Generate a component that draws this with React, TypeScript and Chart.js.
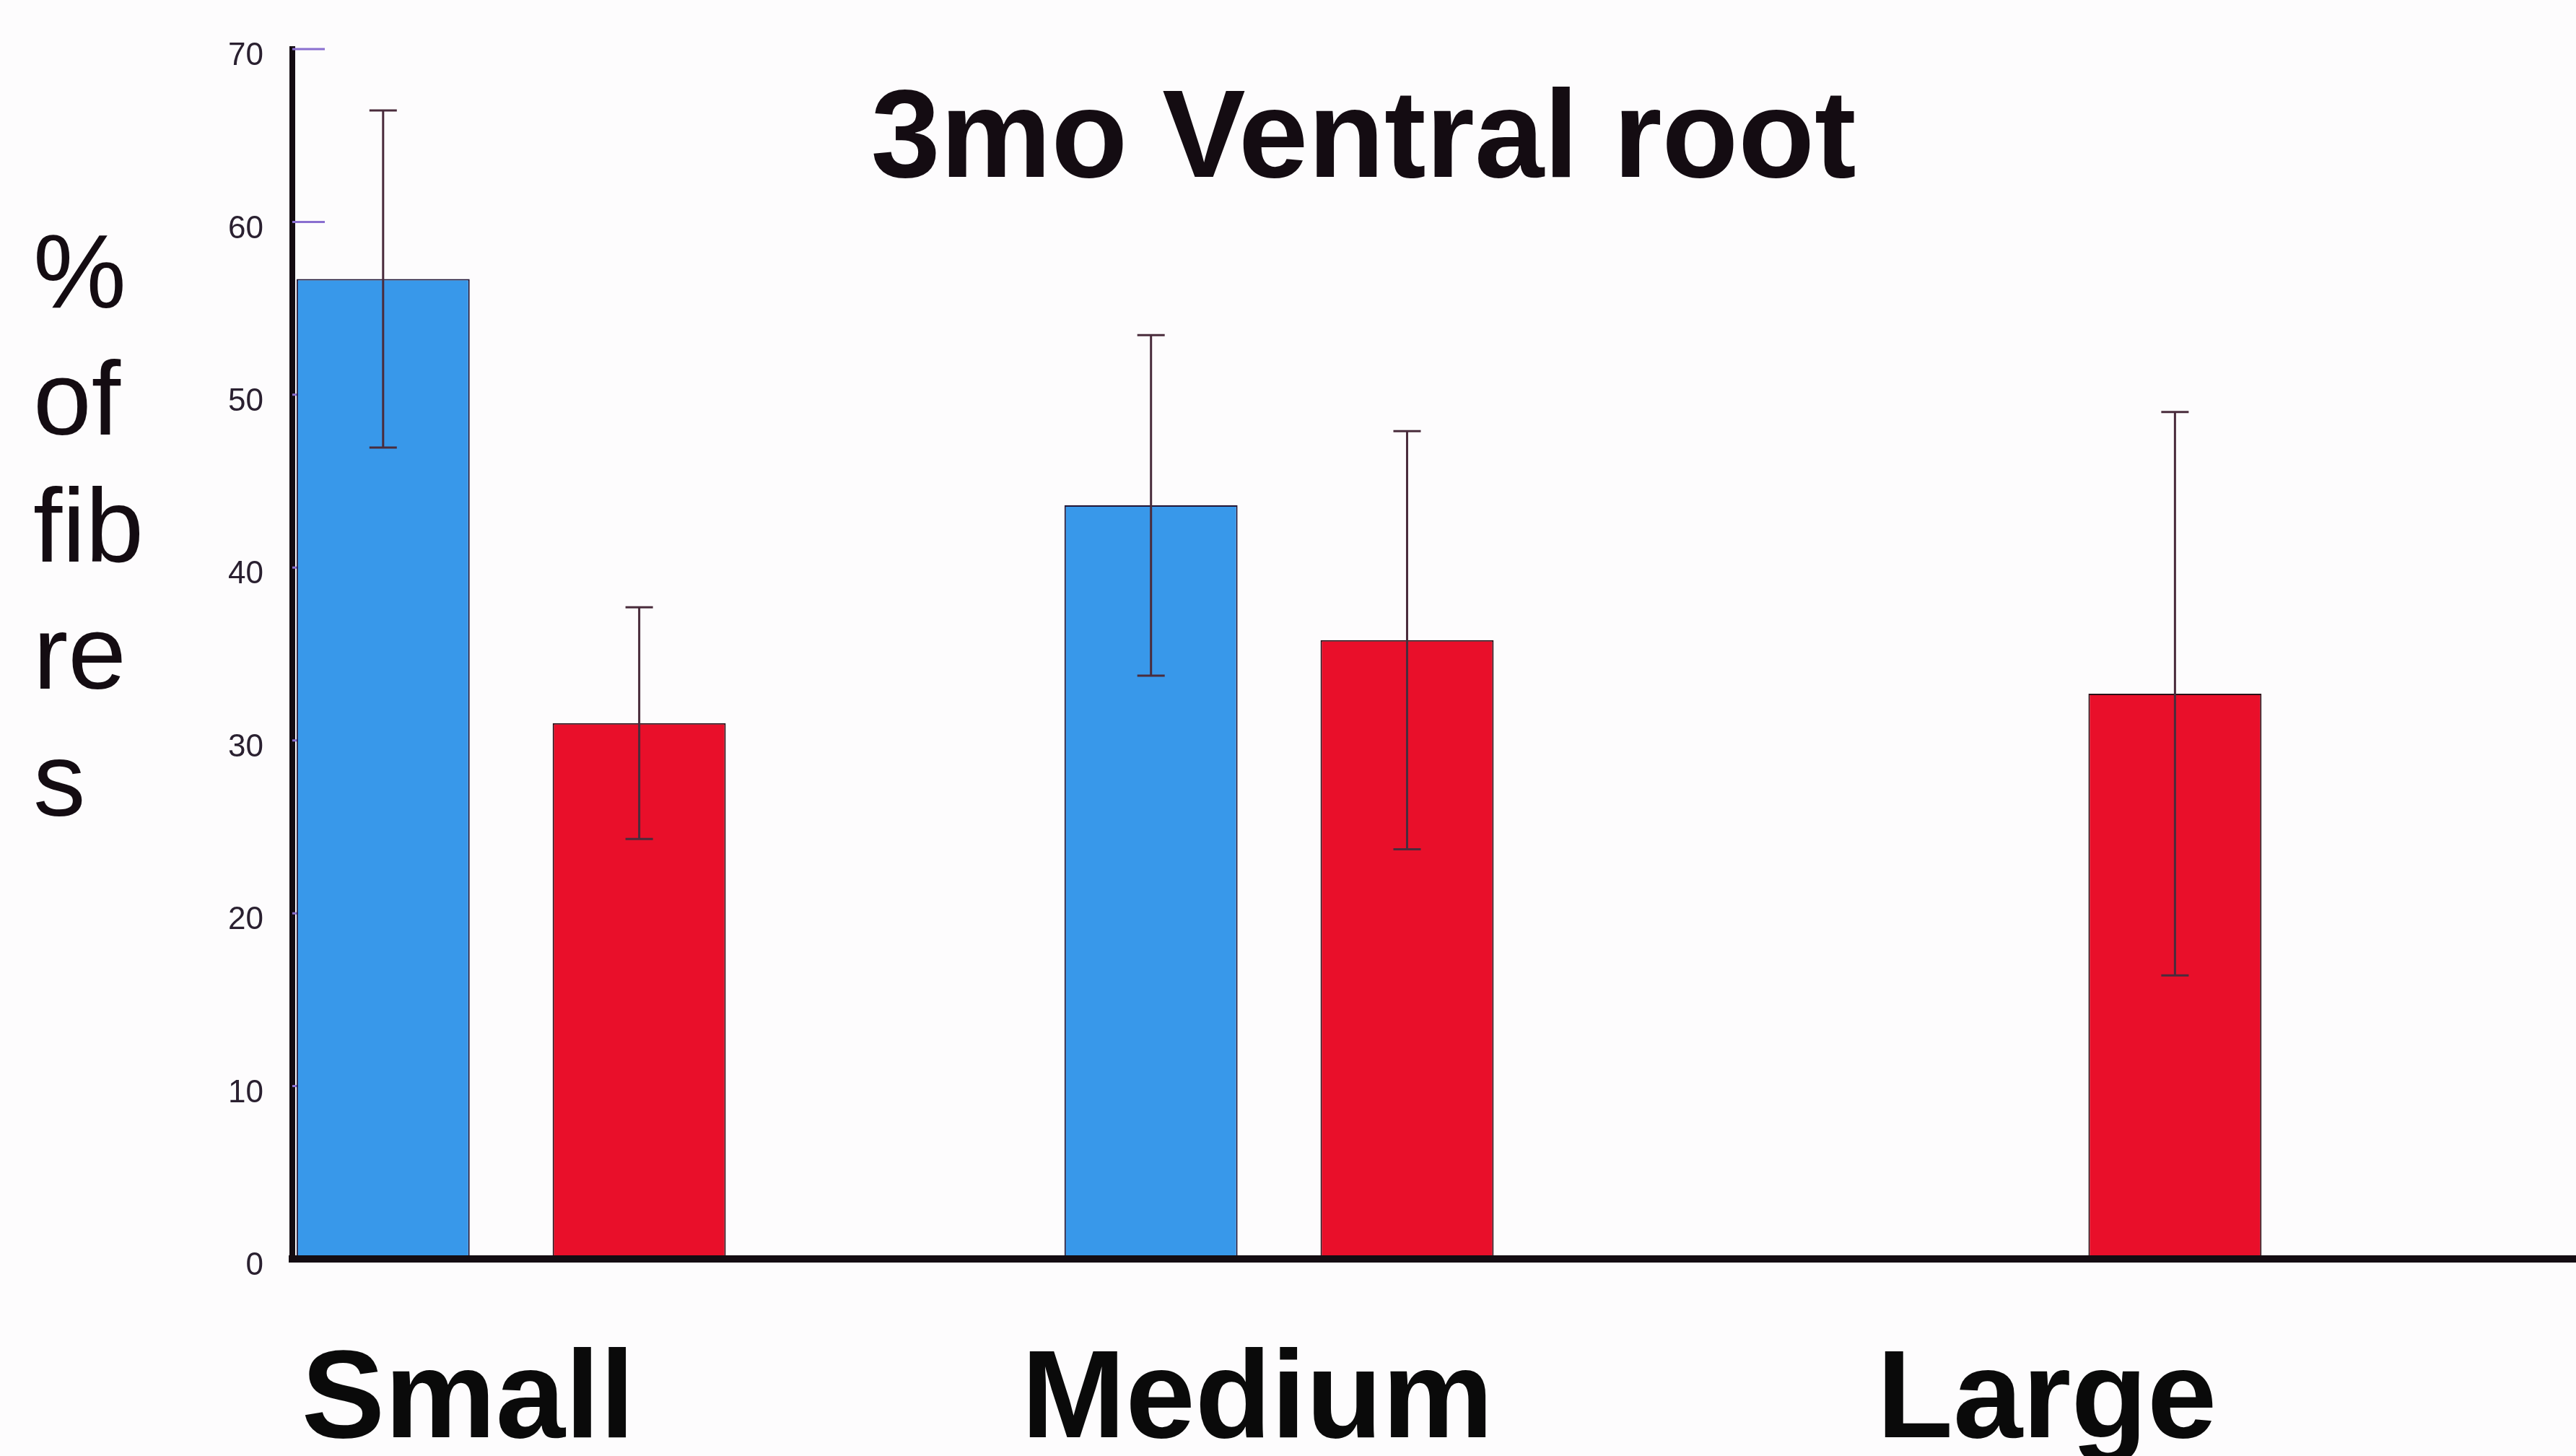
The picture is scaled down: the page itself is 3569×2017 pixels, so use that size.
import React, { useEffect, useRef } from 'react';
import { Chart, registerables } from 'chart.js';

Chart.register(...registerables);

// ---- data ----
const categories = ['Small', 'Medium', 'Large'];
const seriesNames = ['Series 1', 'Series 2'];
const blueValues = [56.7, 43.6, 0];
const blueErrors = [9.75, 9.85, 0];
const redValues = [31.0, 35.8, 32.7];
const redErrors = [6.7, 12.1, 16.3];
const yMin = 0;
const yMax = 70;
const yStep = 10;
const titleText = '3mo Ventral root';
const yLabelLines = ['%', 'of', 'fib', 're', 's'];

const W = 3569;
const H = 2017;
const INK = '#140c12';
const X_MIN = -0.285;
const X_MAX = 2.689;
const LABEL_SPREAD = 1.028;

const errorBarPlugin = {
  id: 'errorBars',
  afterDatasetsDraw(chart: any) {
    const { ctx } = chart;
    const y = chart.scales.y;
    chart.data.datasets.forEach((ds: any, di: number) => {
      const meta = chart.getDatasetMeta(di);
      meta.data.forEach((el: any, i: number) => {
        const v = ds.data[i]?.y;
        const e = ds.errors?.[i];
        if (v == null || !e) return;
        const x = el.x;
        const top = y.getPixelForValue(v + e);
        const bot = y.getPixelForValue(v - e);
        ctx.save();
        ctx.strokeStyle = '#4a2c3c';
        ctx.lineWidth = 3;
        ctx.beginPath();
        ctx.moveTo(x, top);
        ctx.lineTo(x, bot);
        ctx.moveTo(x - 19, top);
        ctx.lineTo(x + 19, top);
        ctx.moveTo(x - 19, bot);
        ctx.lineTo(x + 19, bot);
        ctx.stroke();
        ctx.restore();
      });
    });
  },
};

const innerTickPlugin = {
  id: 'innerTicks',
  beforeDatasetsDraw(chart: any) {
    const { ctx, chartArea } = chart;
    const y = chart.scales.y;
    ctx.save();
    ctx.strokeStyle = '#8a6fd0';
    ctx.lineWidth = 3;
    y.ticks.forEach((t: any) => {
      if (t.value === yMin) return;
      const py = y.getPixelForValue(t.value);
      ctx.beginPath();
      ctx.moveTo(chartArea.left, py);
      ctx.lineTo(chartArea.left + 45, py);
      ctx.stroke();
    });
    ctx.restore();
  },
};

const textPlugin = {
  id: 'freeText',
  afterDraw(chart: any) {
    const { ctx } = chart;
    ctx.save();
    ctx.fillStyle = INK;
    ctx.font = 'bold 173px "Liberation Sans", Arial, sans-serif';
    ctx.textAlign = 'center';
    ctx.textBaseline = 'alphabetic';
    ctx.fillText(titleText, 1889, 245);
    ctx.font = '145px "Liberation Sans", Arial, sans-serif';
    ctx.textAlign = 'left';
    yLabelLines.forEach((line, i) => {
      ctx.fillText(line, 46, 426 + i * 176);
    });
    ctx.restore();
  },
};

export default function App() {
  const ref = useRef<HTMLCanvasElement | null>(null);

  useEffect(() => {
    document.body.style.margin = '0';
    const canvas = ref.current;
    if (!canvas) return;
    const chart = new Chart(canvas, {
      type: 'bar',
      data: {
        datasets: [
          {
            label: seriesNames[0],
            data: blueValues.map((v, i) => ({ x: i, y: v })),
            errors: blueErrors,
            backgroundColor: '#3898ea',
            borderColor: '#221535',
            borderWidth: 2,
          } as any,
          {
            label: seriesNames[1],
            data: redValues.map((v, i) => ({ x: i, y: v })),
            errors: redErrors,
            backgroundColor: '#e90f2a',
            borderColor: '#2a1018',
            borderWidth: 2,
          } as any,
        ],
      },
      options: {
        animation: false,
        responsive: false,
        maintainAspectRatio: false,
        layout: { padding: { left: 285, right: 0, top: 68, bottom: 0 } },
        datasets: { bar: { categoryPercentage: 0.667, barPercentage: 0.676 } },
        plugins: {
          legend: { display: false },
          title: { display: false },
          tooltip: { enabled: false },
        },
        scales: {
          x: {
            type: 'linear',
            offset: false,
            bounds: 'data',
            min: X_MIN,
            max: X_MAX,
            afterBuildTicks: (scale: any) => {
              const mid = (categories.length - 1) / 2;
              scale.ticks = categories.map((_, i) => ({ value: mid + (i - mid) * LABEL_SPREAD }));
              scale.min = X_MIN;
              scale.max = X_MAX;
            },
            afterFit: (scale: any) => {
              scale.height = H - 1744;
            },
            grid: { display: false, drawTicks: false },
            border: { display: true, color: INK, width: 10, z: 1 } as any,
            ticks: {
              autoSkip: false,
              maxRotation: 0,
              padding: 95,
              labelOffset: -30,
              color: '#0a0a0a',
              font: { family: '"Liberation Sans", Arial, sans-serif', size: 173, weight: 'bold' },
              callback: (_v: any, index: number) => categories[index] ?? '',
            },
          },
          y: {
            min: yMin,
            max: yMax,
            afterFit: (scale: any) => {
              scale.width = 120;
            },
            grid: { display: false, drawTicks: false },
            border: { display: true, color: INK, width: 8 },
            ticks: {
              stepSize: yStep,
              padding: 40,
              labelOffset: 10,
              color: '#2a2030',
              font: { family: '"Liberation Sans", Arial, sans-serif', size: 44 },
            },
          },
        },
      },
      plugins: [innerTickPlugin, errorBarPlugin, textPlugin],
    } as any);
    return () => chart.destroy();
  }, []);

  return (
    <div style={{ position: 'fixed', left: 0, top: 0, width: W, height: H, background: '#fdfcfd' }}>
      <canvas ref={ref} width={W} height={H} style={{ width: W, height: H, display: 'block' }} />
    </div>
  );
}
